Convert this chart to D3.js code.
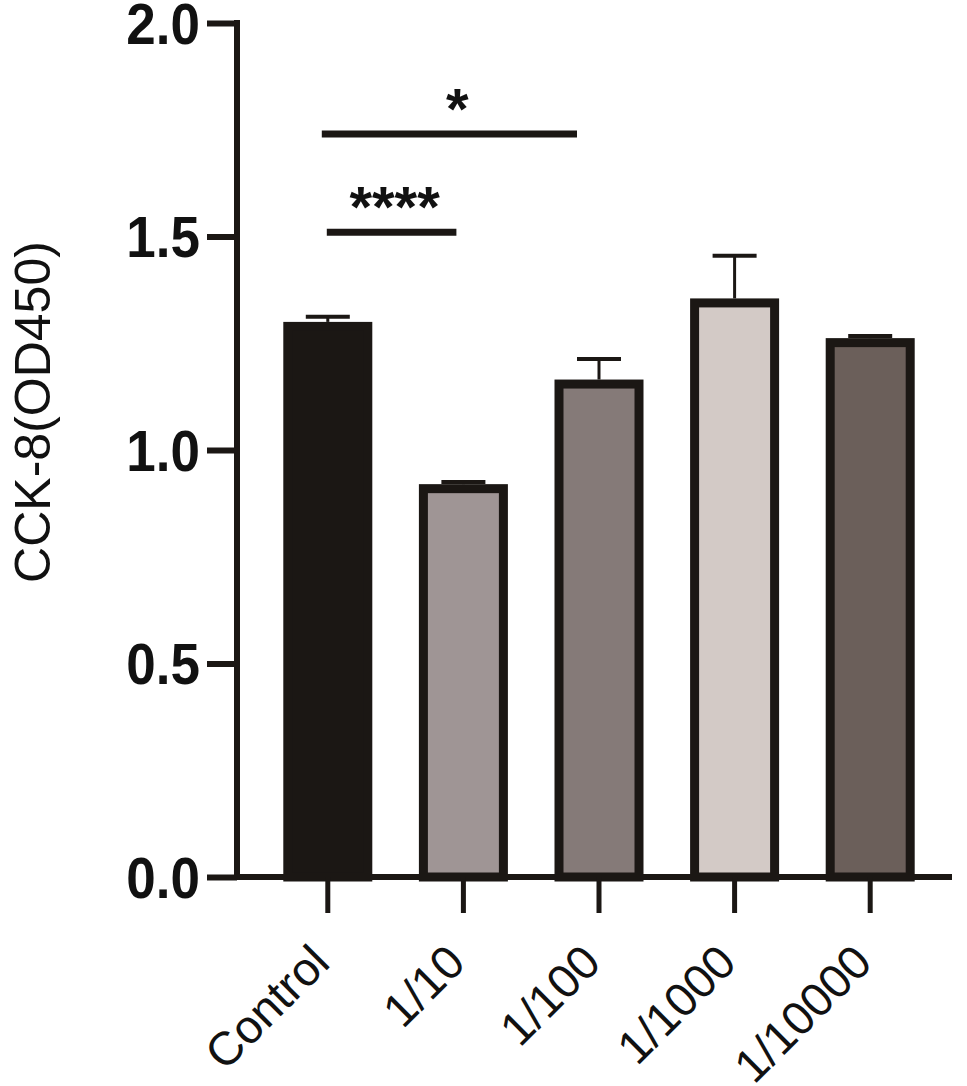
<!DOCTYPE html>
<html>
<head>
<meta charset="utf-8">
<script src="https://cdn.jsdelivr.net/npm/d3@7"></script>
<style>
  html, body { margin: 0; padding: 0; background: #fff; }
  svg { display: block; }
</style>
</head>
<body>
<div id="chart"></div>
<script>
// ---- data ----
const categories = ["Control", "1/10", "1/100", "1/1000", "1/10000"];
const means = [1.30, 0.92, 1.165, 1.355, 1.262];
const errors = [0.012, 0.005, 0.048, 0.10, 0.005];
const fills = ["#1b1714", "#9f9595", "#857a78", "#d3cac6", "#6b5f5a"];
const yTicks = [0.0, 0.5, 1.0, 1.5, 2.0];
const yTitle = "CCK-8(OD450)";
const sigFrom = ["Control", "Control"];
const sigTo = ["1/100", "1/10"];
const sigY = [1.74, 1.51];
const sigLabel = ["*", "****"];

// ---- layout ----
const W = 967, H = 1086;
const axisX = 237, axisY = 877, axisTop = 23, axisRight = 952;
const ink = "#1b1714";

const svg = d3.select("#chart").append("svg").attr("width", W).attr("height", H);

const y = d3.scaleLinear().domain([0, 2]).range([axisY, axisTop]);
const x = d3.scaleBand().domain(categories).range([260, 938]).padding(0);
const cx = c => x(c) + x.bandwidth() / 2;

const bw = 89, sw = 9;

// bars
const bars = svg.append("g");
categories.forEach((c, i) => {
  const top = y(means[i]);
  bars.append("rect")
    .attr("x", cx(c) - bw / 2 + sw / 2)
    .attr("y", top + sw / 2)
    .attr("width", bw - sw)
    .attr("height", axisY - top - sw / 2)
    .attr("fill", fills[i])
    .attr("stroke", ink)
    .attr("stroke-width", sw);
  // error bar (upward)
  const ye = y(means[i] + errors[i]);
  bars.append("line")
    .attr("x1", cx(c)).attr("x2", cx(c))
    .attr("y1", top).attr("y2", ye)
    .attr("stroke", ink).attr("stroke-width", 3);
  bars.append("line")
    .attr("x1", cx(c) - 22).attr("x2", cx(c) + 22)
    .attr("y1", ye).attr("y2", ye)
    .attr("stroke", ink).attr("stroke-width", 4);
});

// y axis
const yAxis = svg.append("g")
  .attr("transform", `translate(${axisX},0)`)
  .call(d3.axisLeft(y).tickValues(yTicks).tickFormat(d3.format(".1f")).tickSize(30).tickSizeOuter(0).tickPadding(7));
yAxis.select(".domain").attr("stroke", ink).attr("stroke-width", 6)
  .attr("d", `M0,${axisTop - 3}V${axisY + 3}`);
yAxis.selectAll(".tick line").attr("stroke", ink).attr("stroke-width", 6);
yAxis.selectAll(".tick text")
  .attr("fill", "#111")
  .attr("font-family", "Liberation Sans, Arial, sans-serif")
  .attr("font-weight", "bold")
  .attr("font-size", 53)
  .attr("dy", "0.36em")
  .attr("transform", "scale(1,1.07)");

// x axis
const xAxis = svg.append("g")
  .attr("transform", `translate(0,${axisY})`)
  .call(d3.axisBottom(x).tickSize(36).tickSizeOuter(0).tickFormat(""));
xAxis.select(".domain").attr("stroke", ink).attr("stroke-width", 6)
  .attr("d", `M${axisX - 3},0H${axisRight}`);
xAxis.selectAll(".tick line").attr("stroke", ink).attr("stroke-width", 5);

// x labels
svg.append("g").selectAll("text")
  .data(categories).join("text")
  .attr("transform", d => `translate(${cx(d) + 4},${965}) rotate(-45)`)
  .attr("text-anchor", "end")
  .attr("font-family", "Liberation Sans, Arial, sans-serif")
  .attr("font-size", 47)
  .attr("fill", "#111")
  .text(d => d);

// y title
svg.append("text")
  .attr("transform", `translate(50,${412}) rotate(-90)`)
  .attr("text-anchor", "middle")
  .attr("font-family", "Liberation Sans, Arial, sans-serif")
  .attr("font-size", 50)
  .attr("fill", "#111")
  .text(yTitle);

// significance brackets
const sigOffL = [-6, -1];
const sigOffR = [-22, -7];
const sigTextDx = [8, 3];
const sig = svg.append("g");
sigFrom.forEach((f, i) => {
  const x1 = cx(f) + sigOffL[i], x2 = cx(sigTo[i]) + sigOffR[i];
  const yy = y(sigY[i]);
  sig.append("line")
    .attr("x1", x1).attr("x2", x2).attr("y1", yy).attr("y2", yy)
    .attr("stroke", ink).attr("stroke-width", 7);
  sig.append("text")
    .attr("x", (x1 + x2) / 2 + sigTextDx[i])
    .attr("y", yy - 5)
    .attr("text-anchor", "middle")
    .attr("font-family", "Liberation Sans, Arial, sans-serif")
    .attr("font-weight", "bold")
    .attr("font-size", 58)
    .attr("fill", "#111")
    .text(sigLabel[i]);
});
</script>
</body>
</html>
